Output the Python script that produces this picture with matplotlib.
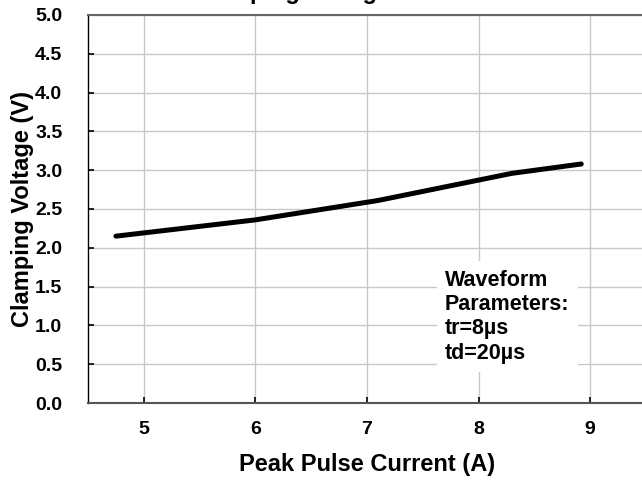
import matplotlib
matplotlib.use("Agg")
import matplotlib.pyplot as plt

current = [4.75, 6.0, 7.1, 8.3, 8.92]
voltage = [2.15, 2.36, 2.61, 2.96, 3.08]
x_ticks = [5, 6, 7, 8, 9]
y_ticks = [0.0, 0.5, 1.0, 1.5, 2.0, 2.5, 3.0, 3.5, 4.0, 4.5, 5.0]
title = "Forward Clamping Voltage vs. Peak Pulse Current"
note = "Waveform\nParameters:\ntr=8\u00b5s\ntd=20\u00b5s"

plt.rcParams['font.family'] = ['Liberation Sans', 'DejaVu Sans']
plt.rcParams['font.weight'] = 'bold'

W, H = 642, 483
fig = plt.figure(figsize=(W / 100, H / 100), dpi=100)
left, right, top, bottom = 88, 646, 15, 403
ax = fig.add_axes([left / W, 1 - bottom / H, (right - left) / W, (bottom - top) / H])

ax.plot(current, voltage, color='black', lw=3.6, solid_capstyle='round', solid_joinstyle='round', zorder=3)

ax.set_xlim(4.5, 9.5)
ax.set_ylim(0, 5)
ax.set_xticks(x_ticks)
ax.set_yticks(y_ticks)
ax.set_yticklabels([f"{v:.1f}" for v in y_ticks])
ax.grid(True, color='#c8c8c8', lw=1.0, zorder=0)
ax.set_axisbelow(True)

ax.tick_params(axis='both', direction='in', length=4, width=1.2, colors='black', labelsize=14)
ax.tick_params(axis='y', pad=18.5)
ax.tick_params(axis='x', pad=13)
for lab in ax.get_xticklabels() + ax.get_yticklabels():
    lab.set_fontweight('bold')

ax.spines['left'].set_color('black')
ax.spines['left'].set_linewidth(1.0)
ax.spines['bottom'].set_color('#555555')
ax.spines['bottom'].set_linewidth(1.5)
ax.spines['top'].set_color('#666666')
ax.spines['top'].set_linewidth(1.5)
ax.spines['right'].set_visible(False)

ax.set_xlabel("Peak Pulse Current (A)", fontsize=17, fontweight='bold', va='center')
ax.set_ylabel("Clamping Voltage (V)", fontsize=17, fontweight='bold', va='center')
ax.xaxis.set_label_coords(((left + right) / 2 - left) / (right - left), -(464 - bottom) / (bottom - top))
ax.yaxis.set_label_coords(-(left - 23) / (right - left), 0.5)

fig.text(373 / W, 1 + 1.5 / H, title, ha='center', va='baseline',
         fontsize=17, fontweight='bold')

ax.text(7.7, 1.72, note, ha='left', va='top', fontsize=15.5, fontweight='bold',
        linespacing=1.21, zorder=4,
        bbox=dict(boxstyle='square,pad=0.4', facecolor='white', edgecolor='none'))

fig.savefig("out.png", dpi=100)
